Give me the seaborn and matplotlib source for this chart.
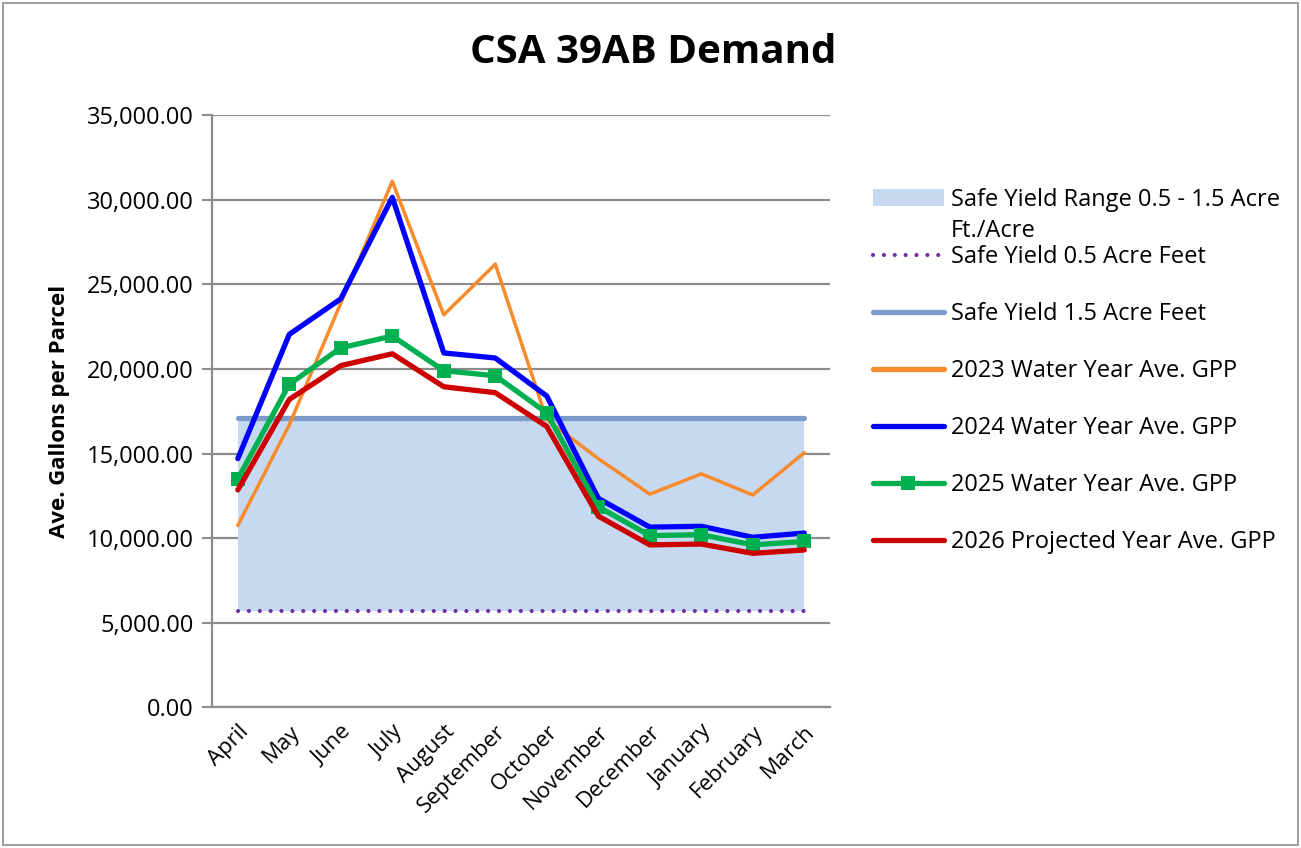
import numpy as np
import pandas as pd
import matplotlib
matplotlib.use("Agg")
import matplotlib.pyplot as plt
import seaborn as sns
from matplotlib.patches import Rectangle, Patch
from matplotlib.lines import Line2D

sns.set_style("white")
plt.rcParams['font.family'] = ['Open Sans', 'DejaVu Sans']
plt.rcParams['text.color'] = 'black'
plt.rcParams['xtick.color'] = 'black'
plt.rcParams['ytick.color'] = 'black'
plt.rcParams['axes.labelcolor'] = 'black'

# Data
months = ["April", "May", "June", "July", "August", "September", "October",
          "November", "December", "January", "February", "March"]
safe_low = [5700] * 12
safe_high = [17100] * 12
wy2023 = [10750, 16700, 23900, 31100, 23200, 26200, 17000, 14700, 12600, 13800, 12550, 15050]
wy2024 = [14700, 22050, 24150, 30150, 20950, 20650, 18400, 12350, 10650, 10700, 10050, 10300]
wy2025 = [13500, 19100, 21250, 21950, 19900, 19600, 17400, 11850, 10150, 10200, 9600, 9800]
wy2026 = [12850, 18200, 20200, 20900, 18950, 18600, 16600, 11300, 9600, 9650, 9100, 9300]

df = pd.DataFrame({"x": np.arange(len(months)), "low": safe_low, "high": safe_high,
                   "y2023": wy2023, "y2024": wy2024, "y2025": wy2025, "y2026": wy2026})

fig = plt.figure(figsize=(13.01, 8.48), dpi=100)
ax = fig.add_axes([0.163, 0.166, 0.475, 0.698])

# safe yield band and lines
ax.fill_between(df["x"], df["low"], df["high"], color="#c6d9f1", lw=0, zorder=1)
sns.lineplot(data=df, x="x", y="low", ax=ax, color="#7030a0", lw=3,
             linestyle=(0, (0.01, 2.6)), dash_capstyle="round", zorder=2)
sns.lineplot(data=df, x="x", y="high", ax=ax, color="#7b9bc8", lw=3.8,
             solid_capstyle="round", zorder=2)

sns.lineplot(data=df, x="x", y="y2023", ax=ax, color="#f78a2a", lw=2.5,
             solid_capstyle="round", zorder=3)
sns.lineplot(data=df, x="x", y="y2024", ax=ax, color="#0000ff", lw=3.8,
             solid_capstyle="round", zorder=4)
sns.lineplot(data=df, x="x", y="y2025", ax=ax, color="#00b050", lw=3.8,
             marker="s", markersize=10, markeredgewidth=0, zorder=5)
sns.lineplot(data=df, x="x", y="y2026", ax=ax, color="#cc0000", lw=3.8,
             solid_capstyle="round", zorder=6)

ax.set_xlim(-0.5, len(months) - 0.5)
ax.set_ylim(0, 35000)
ax.set_yticks(np.arange(0, 35001, 5000))
ax.set_yticklabels([f"{v:,.2f}" for v in np.arange(0, 35001, 5000)], fontsize=17)
ax.yaxis.grid(True, color="#8c8c8c", lw=1.6)
ax.set_axisbelow(True)

ax.set_xticks(np.arange(-0.5, len(months)), minor=False)
ax.set_xticklabels([])
ax.set_xticks(np.arange(len(months)), minor=True)
ax.set_xticklabels(months, minor=True, rotation=45, ha="right", rotation_mode="anchor",
                   fontsize=16)
ax.tick_params(axis="x", which="minor", length=0, pad=10)
ax.tick_params(axis="x", which="major", length=7, width=1.5, color="#8c8c8c", direction="out")
ax.tick_params(axis="y", length=7, width=1.5, color="#8c8c8c", direction="out", left=True,
               pad=6)

for s in ["top", "right"]:
    ax.spines[s].set_visible(False)
for s in ["left", "bottom"]:
    ax.spines[s].set_color("#8c8c8c")
    ax.spines[s].set_linewidth(1.6)

ax.set_xlabel("")
ax.set_ylabel("Ave. Gallons per Parcel", fontsize=16, fontweight="bold", labelpad=12)
fig.text(0.502, 0.938, "CSA 39AB Demand", fontsize=29, fontweight="bold",
         ha="center", va="center")

handles = [
    Patch(facecolor="#c6d9f1", edgecolor="none"),
    Line2D([], [], color="#7030a0", lw=3, linestyle=(0, (0.01, 2.6)), dash_capstyle="round"),
    Line2D([], [], color="#7b9bc8", lw=3.8, solid_capstyle="round"),
    Line2D([], [], color="#f78a2a", lw=3.8, solid_capstyle="round"),
    Line2D([], [], color="#0000ff", lw=3.8, solid_capstyle="round"),
    Line2D([], [], color="#00b050", lw=3.8, marker="s", markersize=10, markeredgewidth=0),
    Line2D([], [], color="#cc0000", lw=3.8, solid_capstyle="round"),
]
labels = ["Safe Yield Range 0.5 - 1.5 Acre", "Safe Yield 0.5 Acre Feet",
          "Safe Yield 1.5 Acre Feet", "2023 Water Year Ave. GPP",
          "2024 Water Year Ave. GPP", "2025 Water Year Ave. GPP",
          "2026 Projected Year Ave. GPP"]
fig.legend(handles, labels, loc="upper left", bbox_to_anchor=(0.671, 0.7785),
           frameon=False, fontsize=17, handlelength=3.0, handletextpad=0.3,
           labelspacing=1.4, borderaxespad=0, borderpad=0)
fig.text(0.731, 0.7275, "Ft./Acre", fontsize=17, ha="left", va="center")

fig.add_artist(Rectangle((0.002, 0.003), 0.996, 0.994, transform=fig.transFigure,
                         fill=False, edgecolor="#8c8c8c", lw=1.2))

fig.savefig("out.png", dpi=100)
